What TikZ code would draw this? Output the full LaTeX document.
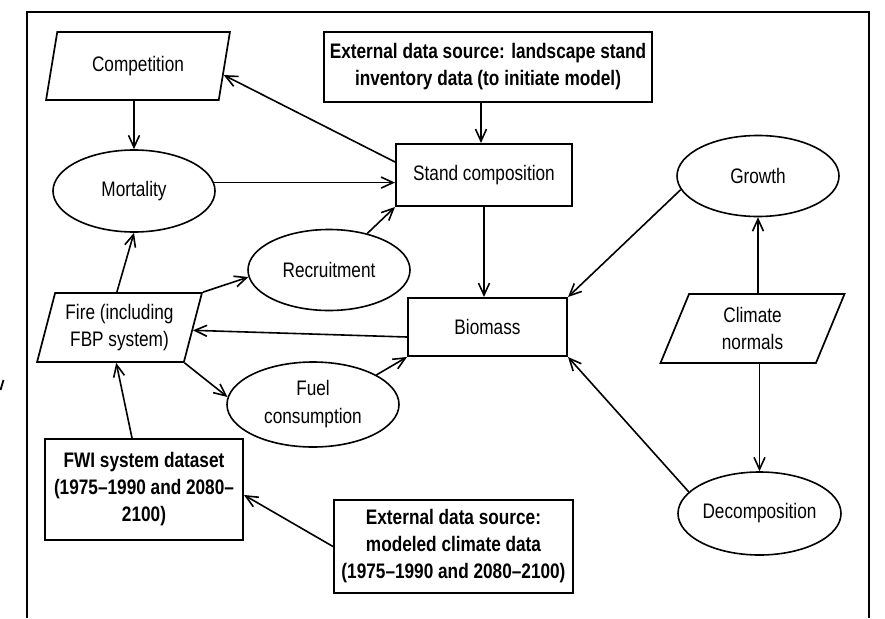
\documentclass[tikz,border=0pt]{standalone}
\usepackage{fontspec}
\setmainfont{Liberation Sans}[FakeStretch=0.82]
\usetikzlibrary{shapes.geometric,arrows.meta,calc}
\begin{document}
\begin{tikzpicture}[x=1pt,y=-1pt,
  every node/.style={font=\fontsize{21}{27}\selectfont, align=center, inner sep=0pt},
  bold/.style={font=\fontsize{21}{27}\selectfont\bfseries},
  rbox/.style={draw, line width=2pt, rectangle},
  ell/.style={draw, line width=1.6pt, ellipse},
  para/.style={draw, line width=1.7pt, trapezium, trapezium left angle=72,
    trapezium right angle=108, trapezium stretches=true},
  arr/.style={line width=1.6pt, -{Straight Barb[length=12pt,width=11pt]}},
  frame/.style={line width=2.2pt}
]
\useasboundingbox (0,0) rectangle (885,618);
% outer frame
\draw[frame] (27,618) -- (27,12) -- (869,12) -- (869,618);
\draw[line width=1.8pt] (0.5,390) -- (3.5,380);

% nodes
\node[para, minimum width=184pt, minimum height=68pt] (comp) at (138,66) {Competition};
\node[ell, minimum width=162pt, minimum height=82pt] (mort) at (134,191) {Mortality};
\node[rbox, bold, minimum width=328pt, minimum height=70pt] (ext1) at (488,67)
  {External data source: landscape stand\\inventory data (to initiate model)};
\node[rbox, minimum width=176pt, minimum height=62pt] (stand) at (484,175) {Stand composition};
\node[ell, minimum width=162pt, minimum height=81pt] (growth) at (758,176) {Growth};
\node[ell, minimum width=162pt, minimum height=81pt] (rec) at (329,270) {Recruitment};
\node[rbox, minimum width=159pt, minimum height=58pt] (bio) at (487.5,327) {Biomass};
\node[para, minimum width=165pt, minimum height=69pt] (fire) at (119.5,327.5) {Fire (including\\FBP system)};
\node[para, minimum width=185pt, minimum height=69pt] (clim) at (752.5,328.5) {Climate\\normals};
\node[ell, minimum width=172pt, minimum height=85pt] (fuel) at (313,404.5) {Fuel\\[1pt]consumption};
\node[ell, minimum width=163pt, minimum height=83pt] (decomp) at (759.5,513.5) {Decomposition};
\node[rbox, bold, minimum width=198pt, minimum height=101pt] (fwi) at (144,489.5)
  {FWI system dataset\\(1975–1990 and 2080–\\2100)};
\node[rbox, bold, minimum width=239pt, minimum height=93pt] (ext2) at (453.5,546.5)
  {External data source:\\modeled climate data\\(1975–1990 and 2080–2100)};

% connectors
\draw[arr] (mort.north |- comp.south) -- (mort.north);
\draw[arr] ([yshift=13pt]stand.west) -- ($(comp.top right corner)!0.63!(comp.bottom right corner)$);
\draw[arr] (mort.6) -- (mort.6 -| stand.west);
\draw[arr] ([xshift=-3pt]stand.north |- ext1.south) -- ([xshift=-3pt]stand.north);
\draw[arr] (rec) -- (stand.south west);
\draw[arr] (stand.south) -- (stand.south |- bio.north);
\draw[arr] (growth.190) -- (bio.north east);
\draw[arr] (growth.south |- clim.north) -- (growth.south);
\draw[arr] (decomp.north |- clim.south) -- (decomp.north);
\draw[arr] (decomp.163) -- (bio.south east);
\draw[arr] ([yshift=-10pt]bio.west) -- ($(fire.top right corner)!0.54!(fire.bottom right corner)$);
\draw[arr] ($(fire.top left corner)!0.42!(fire.top right corner)$) -- (mort.south);
\draw[arr] (fire.top right corner) -- (rec.185);
\draw[arr] (fire.bottom right corner) -- (fuel.175);
\draw[arr] (fuel.25) -- (bio.south west);
\draw[arr] ($(fwi.north west)!0.44!(fwi.north east)$) -- ($(fire.bottom left corner)!0.54!(fire.bottom right corner)$);
\draw[arr] (ext2.west) -- ([yshift=-5.5pt]fwi.east);
\end{tikzpicture}
\end{document}
